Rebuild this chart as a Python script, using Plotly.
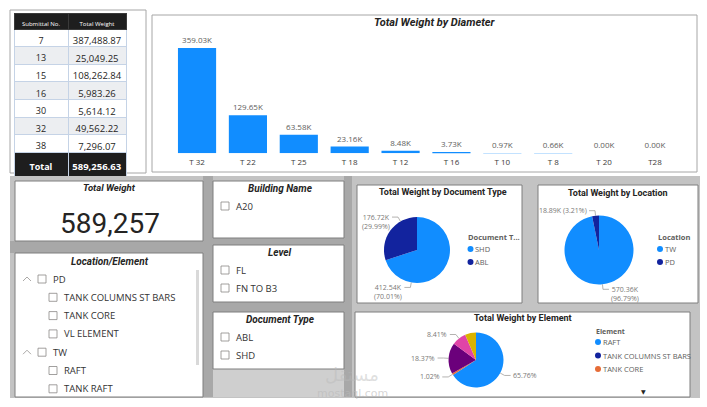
import math
import plotly.graph_objects as go

W, H = 707, 407

# ---------------- data ----------------
submittal_no = ["7", "13", "15", "16", "30", "32", "38"]
submittal_weight = [387488.87, 25049.25, 108262.84, 5983.26, 5614.12, 49562.22, 7296.07]

diameters = ["T 32", "T 22", "T 25", "T 18", "T 12", "T 16", "T 10", "T 8", "T 20", "T28"]
diameter_weight_k = [359.03, 129.65, 63.58, 23.16, 8.48, 3.73, 0.97, 0.66, 0.00, 0.00]

doc_types = ["SHD", "ABL"]
doc_weight_k = [412.54, 176.72]

locations = ["TW", "PD"]
location_weight_k = [570.36, 18.89]

elements = ["RAFT", "TANK COLUMNS ST BARS", "TANK CORE", "TANK RAFT", "VL ELEMENT", "OTHERS"]
element_share = [65.76, 0.0, 1.02, 18.37, 8.41, 6.44]

building_names = ["A20"]
levels = ["FL", "FN TO B3"]
document_types_slicer = ["ABL", "SHD"]
location_tree = [("PD", ["TANK COLUMNS ST BARS", "TANK CORE", "VL ELEMENT"]),
                 ("TW", ["RAFT", "TANK RAFT"])]

total_weight = sum(submittal_weight)

# ---------------- styles ----------------
PAL = ["#118DFF", "#12239E", "#E66C37", "#6B007B", "#E044A7", "#D9B300"]
FONT = "Open Sans"
TFONT = "Roboto"
DARK = "#252423"


def px(x):
    return x / W


def py(y):
    return 1 - y / H


shapes = []
ann = []


def rect(x0, y0, x1, y1, fill, line=None, lw=1, layer="below"):
    shapes.append(dict(type="rect", xref="paper", yref="paper",
                       x0=px(x0), x1=px(x1), y0=py(y1), y1=py(y0),
                       fillcolor=fill, layer=layer,
                       line=dict(color=line if line else fill, width=lw if line else 0)))


def text(x, y, s, size, color=DARK, family=FONT, xa="center", ya="middle"):
    ann.append(dict(x=px(x), y=py(y), xref="paper", yref="paper", text=s, showarrow=False,
                    xanchor=xa, yanchor=ya, borderpad=0,
                    font=dict(size=size, color=color, family=family)))


def path(pts, color, width=0.8):
    d = "M " + " L ".join(f"{px(a)},{py(b)}" for a, b in pts)
    shapes.append(dict(type="path", xref="paper", yref="paper", path=d,
                       line=dict(color=color, width=width), layer="above"))


def circle(x, y, r, color):
    shapes.append(dict(type="circle", xref="paper", yref="paper",
                       x0=px(x - r), x1=px(x + r), y0=py(y + r), y1=py(y - r),
                       fillcolor=color, line=dict(width=0), layer="above"))


def checkbox(x, y):
    shapes.append(dict(type="rect", xref="paper", yref="paper",
                       x0=px(x), x1=px(x + 8), y0=py(y + 4), y1=py(y - 4),
                       fillcolor="white", line=dict(color="#8A8886", width=0.8), layer="above"))


# ---------------- background panels ----------------
rect(10, 10, 146, 173, "white", "#A6A6A6", 1)
rect(152, 15, 697, 172, "white", "#A6A6A6", 1)

rect(10, 176, 700, 398, "#C3C3C3")
rect(203, 176, 213, 397, "#A8A8A8")
rect(10, 241, 213, 253, "#A8A8A8")
rect(213, 238, 350, 245, "#A8A8A8")
rect(213, 302, 350, 312, "#A8A8A8")
rect(344, 176, 352, 397, "#A8A8A8")
rect(213, 369, 344, 397, "#CFCFCF")

CARD_LINE = "#7F7F7F"
rect(15, 181, 203, 241, "white", CARD_LINE, 1)
rect(15, 253, 203, 397, "white", CARD_LINE, 1)
rect(213, 181, 344, 238, "white", CARD_LINE, 1)
rect(213, 245, 344, 302, "white", CARD_LINE, 1)
rect(213, 312, 344, 369, "white", CARD_LINE, 1)
rect(357, 185, 522, 303, "white", CARD_LINE, 1)
rect(538, 185, 698, 303, "white", CARD_LINE, 1)
rect(355, 312, 690, 397, "white", CARD_LINE, 1)

# ---------------- table ----------------
n = len(submittal_no)
col1 = submittal_no + ["<b>Total</b>"]
col2 = [f"{v:,.2f}" for v in submittal_weight] + [f"<b>{total_weight:,.2f}</b>"]
row_fill = [("white" if i % 2 == 0 else "#ECEEF1") for i in range(n)] + ["#1E1E1E"]
row_font = [DARK] * n + ["white"]

table = go.Table(
    domain=dict(x=[px(14), px(126)], y=[py(176), py(13)]),
    columnwidth=[54, 58],
    header=dict(values=["Submittal\u00a0No.", "Total\u00a0Weight"], fill_color="#1E1E1E",
                font=dict(color="white", size=6, family=FONT), align="center",
                height=16, line=dict(color="#3A3A3A", width=1)),
    cells=dict(values=[col1, col2], fill_color=[row_fill, row_fill],
               font=dict(color=[row_font, row_font], size=[9, 9.5], family=FONT),
               align="center", height=17.6, line=dict(color="#C5D3E6", width=1)),
)

# ---------------- bar chart ----------------
bar = go.Bar(x=diameters, y=diameter_weight_k, marker=dict(color=PAL[0], line=dict(width=0)),
             width=0.75, text=[f"{v:.2f}K" for v in diameter_weight_k],
             textposition="outside", textfont=dict(size=8, color="#605E5C", family=FONT),
             cliponaxis=False, hoverinfo="x+y", showlegend=False)
text(435, 22, "<b><i>Total Weight by Diameter</i></b>", 11, DARK, TFONT)


# ---------------- pies ----------------
def pie(labels, values, colors, cx, cy, r, name):
    return go.Pie(labels=labels, values=values, sort=False, direction="clockwise", rotation=0,
                  marker=dict(colors=colors, line=dict(width=0)), textinfo="none",
                  hoverinfo="label+value+percent", showlegend=False, name=name,
                  domain=dict(x=[px(cx - r), px(cx + r)], y=[py(cy + r), py(cy - r)]))


def pie_labels(cx, cy, r, values, texts, show, overrides, multiline):
    tot = sum(values)
    cum = 0
    for i, v in enumerate(values):
        frac = v / tot
        mid = (cum + frac / 2) * 360
        cum += frac
        if not show[i]:
            continue
        th = math.radians(overrides.get(i, mid))
        dx, dy = math.sin(th), -math.cos(th)
        ex, ey = cx + r * dx, cy + r * dy
        bx, by = cx + (r + 5) * dx, cy + (r + 5) * dy
        side = 1 if dx >= 0 else -1
        tx = bx + side * 6
        path([(ex, ey), (bx, by), (tx, by)], "#A19F9D", 0.8)
        xa = "left" if side > 0 else "right"
        if multiline[i]:
            text(tx + side * 1.5, by - 5, texts[i], 7, "#7A7876", FONT, xa, "top")
        else:
            text(tx + side * 1.5, by, texts[i], 7, "#7A7876", FONT, xa, "middle")


DCX, DCY, DR = 417, 250, 33
doc_tot = sum(doc_weight_k)
p1 = pie(doc_types, doc_weight_k, [PAL[0], PAL[1]], DCX, DCY, DR, "doc")
pie_labels(DCX, DCY, DR, doc_weight_k,
           [f"{v:.2f}K<br>({v / doc_tot * 100:.2f}%)" for v in doc_weight_k],
           [True, True], {0: 190, 1: 330}, [True, True])
text(443, 192, "<b>Total Weight by Document Type</b>", 9, DARK, TFONT)
text(467, 237, "<b>Document T...</b>", 7.5, "#605E5C", FONT, "left")
for i, nm in enumerate(doc_types):
    circle(470.5, 249 + 13 * i, 3, [PAL[0], PAL[1]][i])
    text(474, 249 + 13 * i, nm, 7.5, "#605E5C", FONT, "left")

LCX, LCY, LR = 599, 250, 34.5
loc_tot = sum(location_weight_k)
p2 = pie(locations, location_weight_k, [PAL[0], PAL[1]], LCX, LCY, LR, "loc")
pie_labels(LCX, LCY, LR, location_weight_k,
           [f"{v:.2f}K{'<br>' if i == 0 else ' '}({v / loc_tot * 100:.2f}%)"
            for i, v in enumerate(location_weight_k)],
           [True, True], {}, [True, False])
text(618, 193, "<b>Total Weight by Location</b>", 9, DARK, TFONT)
text(657, 237, "<b>Location</b>", 7.5, "#605E5C", FONT, "left")
for i, nm in enumerate(locations):
    circle(660, 249 + 13 * i, 3, [PAL[0], PAL[1]][i])
    text(663.5, 249 + 13 * i, nm, 7.5, "#605E5C", FONT, "left")

ECX, ECY, ER = 476, 360, 27.5
el_tot = sum(element_share)
p3 = pie(elements, element_share, PAL[:len(elements)], ECX, ECY, ER, "el")
pie_labels(ECX, ECY, ER, element_share,
           [f"{v / el_tot * 100:.2f}%" for v in element_share],
           [v > 0 for v in element_share[:-1]] + [False], {},
           [False] * len(elements))
text(523, 318, "<b>Total Weight by Element</b>", 9, DARK, TFONT)
text(595, 331, "<b>Element</b>", 7, "#605E5C", FONT, "left")
for i, nm in enumerate(elements[:3]):
    circle(598, 342 + 13.5 * i, 3, PAL[i])
    text(601.5, 342 + 13.5 * i, nm, 7.5, "#605E5C", FONT, "left")
text(643, 391, "▼", 6, "#252423", "DejaVu Sans")

# ---------------- KPI card ----------------
text(110, 187, "<b><i>Total Weight</i></b>", 9.5, DARK, TFONT)
text(110, 223, f"{round(total_weight):,}", 28, DARK, TFONT)

# ---------------- slicers ----------------
text(110, 261, "<b><i>Location/Element</i></b>", 10, DARK, TFONT)
yy = 279
for parent, kids in location_tree:
    path([(23, yy + 2), (27, yy - 2), (31, yy + 2)], "#A19F9D", 0.9)
    checkbox(38, yy)
    text(52, yy, parent, 9.5, "#333333", FONT, "left")
    yy += 18.3
    for k in kids:
        checkbox(49, yy)
        text(63, yy, k, 9.5, "#333333", FONT, "left")
        yy += 18.3
rect(196, 270, 199, 365, "#D9D9D9", layer="above")


def slicer(title, ty, items, y0):
    text(280, ty, f"<b><i>{title}</i></b>", 10, DARK, TFONT)
    for j, it in enumerate(items):
        checkbox(221, y0 + 18 * j)
        text(235, y0 + 18 * j, it, 9.5, "#333333", FONT, "left")


slicer("Building Name", 188, building_names, 206)
slicer("Level", 252, levels, 270)
slicer("Document Type", 319, document_types_slicer, 337)

# watermark
text(352, 374, "مستقل", 18, "rgba(185,185,185,0.45)", "DejaVu Sans")
text(352, 393, "mostaql.com", 11, "rgba(185,185,185,0.6)", "DejaVu Sans")

fig = go.Figure([table, bar, p1, p2, p3])
fig.update_layout(
    width=W, height=H, autosize=False, margin=dict(l=0, r=0, t=0, b=0),
    paper_bgcolor="white", plot_bgcolor="rgba(0,0,0,0)", showlegend=False,
    shapes=shapes, annotations=ann,
    xaxis=dict(domain=[px(171.6), px(680.4)], type="category", showgrid=False, showline=False,
               zeroline=False, ticks="", ticklabelstandoff=3,
               tickfont=dict(size=8, color="#3B3A39", family=FONT), fixedrange=True),
    yaxis=dict(domain=[py(153.3), py(30)], range=[0, 420], visible=False, fixedrange=True),
    font=dict(family=FONT),
)
fig.write_html("out.html")
